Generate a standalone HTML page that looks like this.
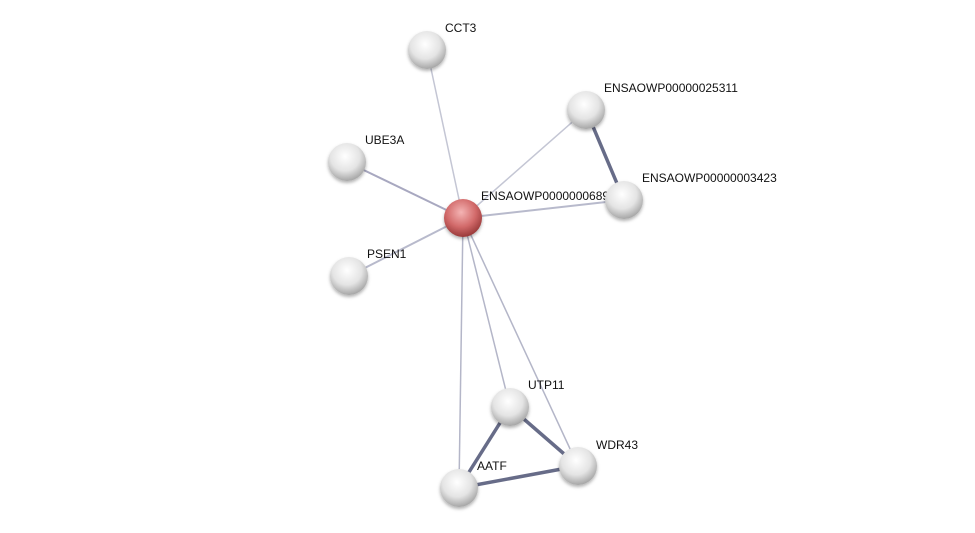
<!DOCTYPE html>
<html><head><meta charset="utf-8"><style>
html,body{margin:0;padding:0;background:#fff;}
svg{display:block;}
text{font-family:"Liberation Sans",sans-serif;font-size:12px;fill:#111;}
</style></head><body>
<svg width="975" height="533" viewBox="0 0 975 533">
<defs>
<radialGradient id="g" cx="0.45" cy="0.35" r="0.7">
<stop offset="0" stop-color="#ffffff"/>
<stop offset="0.55" stop-color="#e4e4e4"/>
<stop offset="1" stop-color="#9a9a9a"/>
</radialGradient>
<radialGradient id="r" cx="0.45" cy="0.35" r="0.7">
<stop offset="0" stop-color="#f4b4b4"/>
<stop offset="0.55" stop-color="#d26a6a"/>
<stop offset="1" stop-color="#8e3030"/>
</radialGradient>
<filter id="s" x="-30%" y="-30%" width="160%" height="160%"><feDropShadow dx="0" dy="2" stdDeviation="1.5" flood-color="#000" flood-opacity="0.3"/></filter>
</defs>
<g stroke="#c4c6d4" stroke-width="1.5" fill="none">
<line x1="463" y1="218" x2="427" y2="50"/>
<line x1="463" y1="218" x2="586" y2="110"/>
<line x1="463" y1="218" x2="347" y2="162" stroke="#a8a8c0" stroke-width="2"/>
<line x1="463" y1="218" x2="624" y2="200" stroke="#b8bacc" stroke-width="2"/>
<line x1="463" y1="218" x2="349" y2="276" stroke="#b8bacc" stroke-width="2"/>
<line x1="463" y1="218" x2="510" y2="407" stroke="#b4b6c8"/>
<line x1="463" y1="218" x2="578" y2="466" stroke="#b4b6c8"/>
<line x1="463" y1="218" x2="459" y2="488" stroke="#b4b6c8"/>
</g>
<g stroke="#676c88" stroke-width="3.5">
<line x1="586" y1="110" x2="624" y2="200"/>
<line x1="510" y1="407" x2="578" y2="466"/>
<line x1="510" y1="407" x2="459" y2="488"/>
<line x1="459" y1="488" x2="578" y2="466"/>
</g>
<g>
<text x="445" y="32">CCT3</text>
<text x="604" y="92">ENSAOWP00000025311</text>
<text x="365" y="144">UBE3A</text>
<text x="642" y="182">ENSAOWP00000003423</text>
<text x="481" y="200">ENSAOWP0000000689</text>
<text x="367" y="258">PSEN1</text>
<text x="528" y="389">UTP11</text>
<text x="596" y="449">WDR43</text>
<text x="477" y="470">AATF</text>
</g>
<g filter="url(#s)" fill="url(#g)">
<circle cx="427" cy="50" r="19"/>
<circle cx="586" cy="110" r="19"/>
<circle cx="347" cy="162" r="19"/>
<circle cx="624" cy="200" r="19"/>
<circle cx="349" cy="276" r="19"/>
<circle cx="510" cy="407" r="19"/>
<circle cx="578" cy="466" r="19"/>
<circle cx="459" cy="488" r="19"/>
<circle cx="463" cy="218" r="19" fill="url(#r)"/>
</g>
</svg>
</body></html>
